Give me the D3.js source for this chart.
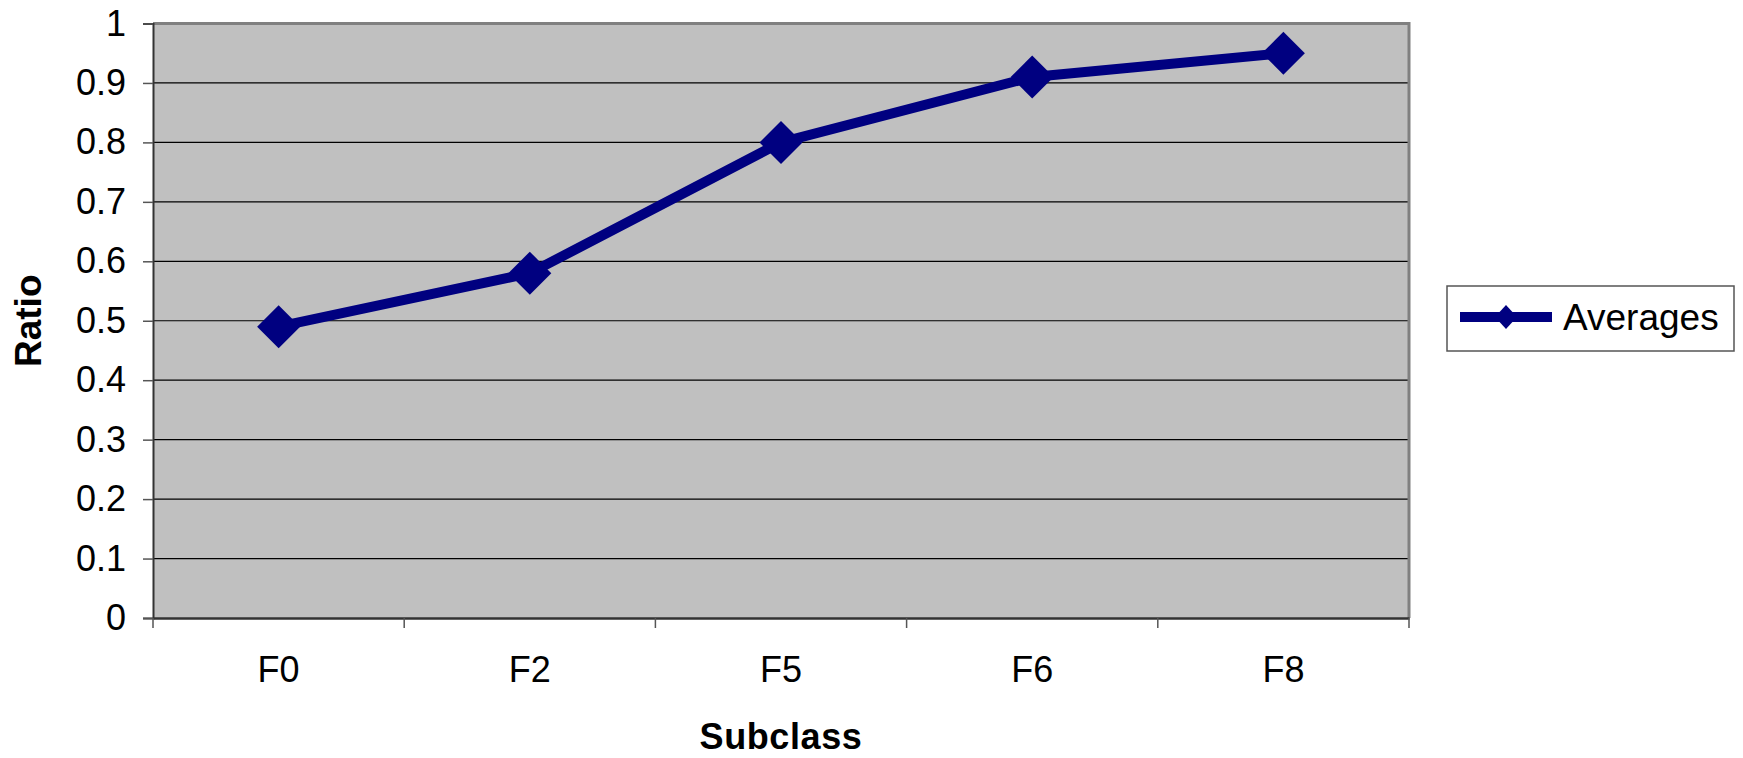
<!DOCTYPE html>
<html>
<head>
<meta charset="utf-8">
<script src="https://cdn.jsdelivr.net/npm/d3@7/dist/d3.min.js"></script>
<style>
  html, body { margin: 0; padding: 0; background: #fff; }
  svg { display: block; }
  text { font-family: "Liberation Sans", Arial, sans-serif; }
</style>
</head>
<body>
<svg id="chart" width="1743" height="758"></svg>
<script>
const categories = ["F0", "F2", "F5", "F6", "F8"];
const averages = [0.49, 0.58, 0.80, 0.91, 0.95];
const yTicks = [0, 0.1, 0.2, 0.3, 0.4, 0.5, 0.6, 0.7, 0.8, 0.9, 1];
const yTickLabels = ["0", "0.1", "0.2", "0.3", "0.4", "0.5", "0.6", "0.7", "0.8", "0.9", "1"];
const seriesName = "Averages";
const xTitle = "Subclass";
const yTitle = "Ratio";

const svg = d3.select("#chart");
const L = 153, R = 1409, T = 23.5, B = 618;

const x = d3.scaleBand().domain(categories).range([L, R]);
const y = d3.scaleLinear().domain([0, 1]).range([B, T]);

// plot background
svg.append("rect").attr("x", L).attr("y", T).attr("width", R - L).attr("height", B - T)
  .attr("fill", "#c0c0c0");

// gridlines
svg.append("g").selectAll("line").data(yTicks.filter(d => d > 0 && d < 1)).join("line")
  .attr("x1", L).attr("x2", R).attr("y1", d => y(d)).attr("y2", d => y(d))
  .attr("stroke", "#000").attr("stroke-width", 1.2);

// border top/right
svg.append("path")
  .attr("d", `M${L},${T} H${R} V${B}`)
  .attr("fill", "none").attr("stroke", "#808080").attr("stroke-width", 3);

// y axis
const yAxis = d3.axisLeft(y).tickValues(yTicks)
  .tickFormat((d, i) => yTickLabels[i]).tickSize(10).tickPadding(17);
const gy = svg.append("g").attr("transform", `translate(${L},0)`).call(yAxis);
gy.select(".domain").attr("stroke", "#333").attr("stroke-width", 2);
gy.selectAll(".tick line").attr("stroke", "#555").attr("stroke-width", 1.5);
gy.selectAll(".tick text").attr("font-size", 36).attr("fill", "#000")
  .attr("font-family", "'Liberation Sans', Arial, sans-serif");

// x axis
const xAxis = d3.axisBottom(x).tickSize(0).tickPadding(38);
const gx = svg.append("g").attr("transform", `translate(0,${B})`).call(xAxis);
gx.select(".domain").attr("stroke", "#333").attr("stroke-width", 2.5);
gx.selectAll(".tick text").attr("font-size", 36).attr("fill", "#000")
  .attr("font-family", "'Liberation Sans', Arial, sans-serif");
// boundary ticks
const bounds = categories.map(c => x(c)).concat([x(categories[categories.length - 1]) + x.bandwidth()]);
svg.append("g").selectAll("line").data(bounds).join("line")
  .attr("x1", d => d).attr("x2", d => d).attr("y1", B).attr("y2", B + 10)
  .attr("stroke", "#555").attr("stroke-width", 1.5);

// line
const cx = d => x(d) + x.bandwidth() / 2;
const pts = categories.map((c, i) => [cx(c), y(averages[i])]);
svg.append("path").datum(pts)
  .attr("d", d3.line())
  .attr("fill", "none").attr("stroke", "#000080").attr("stroke-width", 10)
  .attr("stroke-linejoin", "round");

const diamond = (s) => `M0,${-s} L${s},0 L0,${s} L${-s},0 Z`;
svg.append("g").selectAll("path").data(pts).join("path")
  .attr("transform", d => `translate(${d[0]},${d[1]})`)
  .attr("d", diamond(21.5))
  .attr("fill", "#000080");

// axis titles
svg.append("text").attr("x", (L + R) / 2).attr("y", 749)
  .attr("text-anchor", "middle").attr("font-size", 36).attr("font-weight", "bold")
  .attr("letter-spacing", 0.6)
  .text(xTitle);
svg.append("text")
  .attr("transform", `translate(41,${(T + B) / 2}) rotate(-90)`)
  .attr("text-anchor", "middle").attr("font-size", 37).attr("font-weight", "bold")
  .text(yTitle);

// legend
const lg = svg.append("g");
lg.append("rect").attr("x", 1447).attr("y", 286).attr("width", 287).attr("height", 65)
  .attr("fill", "#fff").attr("stroke", "#555").attr("stroke-width", 1.5);
lg.append("line").attr("x1", 1460).attr("x2", 1552).attr("y1", 317).attr("y2", 317)
  .attr("stroke", "#000080").attr("stroke-width", 10);
lg.append("path").attr("transform", "translate(1506,317)")
  .attr("d", "M0,-12 L11,0 L0,12 L-11,0 Z").attr("fill", "#000080");
lg.append("text").attr("x", 1563).attr("y", 330).attr("font-size", 37)
  .attr("fill", "#000").text(seriesName);
</script>
</body>
</html>
